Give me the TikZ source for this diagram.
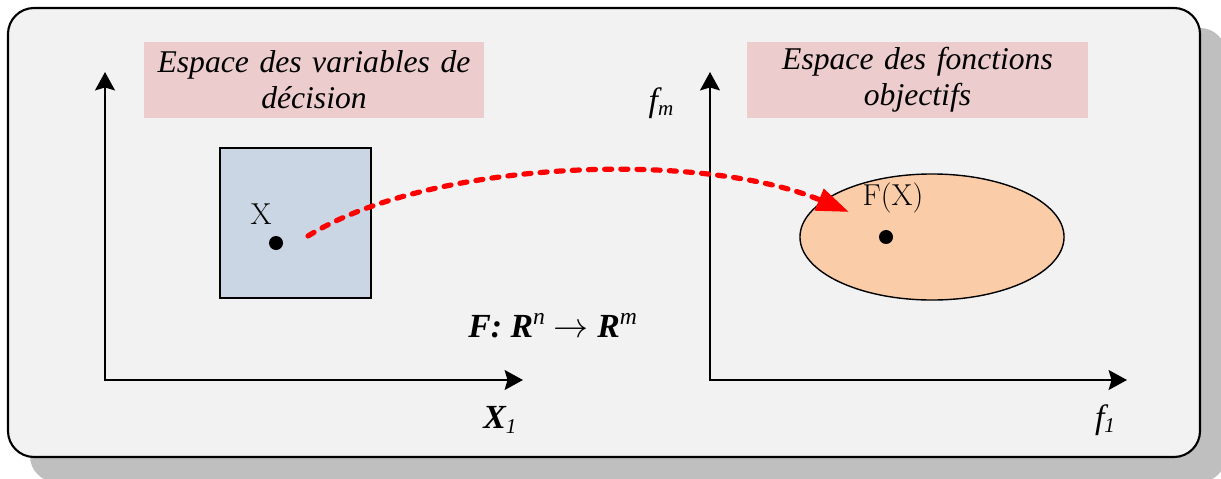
\documentclass[tikz,border=0pt]{standalone}
\usepackage{fontspec}
\newfontfamily\gar{Liberation Serif}
\usetikzlibrary{shapes.geometric,arrows.meta}
\definecolor{bgc}{RGB}{242,242,242}
\definecolor{shadowc}{RGB}{191,191,191}
\definecolor{pinkc}{RGB}{236,204,204}
\definecolor{bluec}{RGB}{202,214,228}
\definecolor{orangec}{RGB}{250,204,168}
\definecolor{redc}{RGB}{255,0,0}
\tikzset{
  titlebox/.style={fill=pinkc, text width=8.5cm, minimum width=8.5cm, minimum height=1.9cm, inner sep=0pt, align=center, font=\gar\itshape\fontsize{22.5}{25.6}\selectfont},
  axis/.style={line width=2.1pt, {Stealth[length=13pt,width=14pt,inset=2pt]}-{Stealth[length=13pt,width=14pt,inset=2pt]}},
  lab/.style={font=\gar\itshape\fontsize{24}{28}\selectfont, inner sep=0pt},
  lmlab/.style={font=\rmfamily\fontsize{21.5}{25}\selectfont, inner sep=0pt},
  dot/.style={circle, fill=black, minimum size=0.35cm, inner sep=0pt},
  mapping/.style={draw=redc, line width=3.7pt, dash pattern=on 5pt off 6.5pt, line cap=round, -{Triangle[length=23pt,width=16pt,fill=redc]}}
}
\newcommand{\smallsub}[1]{{\fontsize{15}{15}\selectfont\raisebox{-3pt}{#1}}}
\begin{document}
\begin{tikzpicture}[x=0.025cm,y=-0.025cm]
\useasboundingbox (0,0) rectangle (1221,479);
% shadow and frame
\fill[shadowc, rounded corners=0.65cm] (30,28) rectangle (1226,482);
\draw[line width=1.5pt, fill=bgc, rounded corners=0.65cm] (8,8) rectangle (1200,457);
% titles
\node[titlebox] (t1) at (314,80) {Espace des variables de\\décision};
\node[titlebox] (t2) at (917.5,80) {Espace des fonctions\\objectifs};
% decision space box
\node[draw, line width=1.1pt, fill=bluec, minimum width=3.775cm, minimum height=3.75cm, inner sep=0pt] (dom) at (295.5,223) {};
% objective space ellipse
\node[ellipse, draw, line width=1pt, fill=orangec, minimum width=6.6cm, minimum height=3.15cm, inner sep=0pt] (img) at (932,237) {};
% axes
\coordinate (o1) at (105,380);
\coordinate (y1) at (105,72);
\coordinate (x1) at (523,380);
\coordinate (o2) at (710,380);
\coordinate (y2) at (710,72);
\coordinate (x2) at (1127,380);
\draw[axis] (y1) -- (o1) -- (x1);
\draw[axis] (y2) -- (o2) -- (x2);
% axis labels
\node[lab] (lx1) at (500,420) {\textbf{X}\smallsub{1}};
\node[lab] (lf1) at (1105,420) {f\smallsub{1}};
\node[lab] (lfm) at (661,103) {f\smallsub{m}};
% points
\node[dot] (px) at (276,243) {};
\node[lmlab] (lX) at (261,214) {X};
\node[dot] (pf) at (886,237) {};
\node[lmlab] (lF) at (893,198) {F(X)};
% mapping label
\node[font=\gar\fontsize{24}{28}\selectfont, inner sep=0pt] (map) at (553,326) {{\bfseries\itshape F: R}\textsuperscript{\itshape n} $\rightarrow$ {\bfseries\itshape R}\textsuperscript{\itshape m}};
% mapping arrow
\coordinate (a0) at (308,236);
\coordinate (a1) at (849,212);
\draw[mapping] (a0) .. controls (430,160) and (700,150) .. (a1);
\end{tikzpicture}
\end{document}
